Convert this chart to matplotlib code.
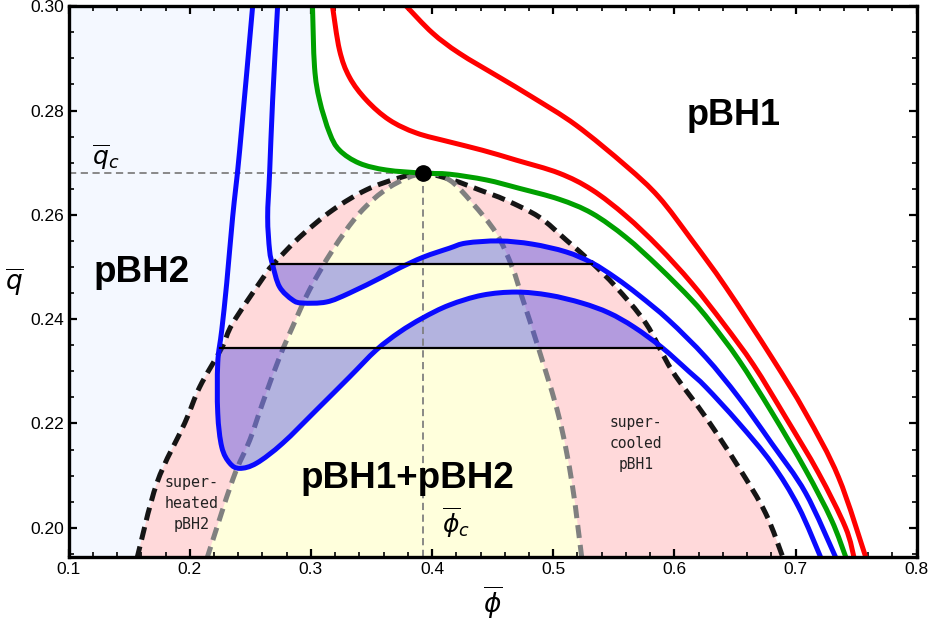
import numpy as np
import matplotlib.pyplot as plt
from matplotlib.path import Path
from matplotlib.patches import PathPatch
from matplotlib.ticker import MultipleLocator, FormatStrFormatter

plt.rcParams['font.family'] = ['Liberation Sans', 'DejaVu Sans']

# critical point
phi_c = 0.3928
q_c = 0.2680

# coexistence curve (black dashed)
coex_phi = [0.1563, 0.1729, 0.1959, 0.2082, 0.2264, 0.2354, 0.2610, 0.2684, 0.2906,
            0.3178, 0.3458, 0.3730, 0.3928, 0.4166, 0.4389, 0.4612, 0.4883, 0.5106,
            0.5320, 0.5517, 0.5765, 0.5979, 0.6259, 0.6531, 0.6753, 0.6901]
coex_q = [0.1940, 0.2086, 0.2201, 0.2270, 0.2345, 0.2392, 0.2481, 0.2504, 0.2557,
          0.2609, 0.2648, 0.2671, 0.2680, 0.2667, 0.2648, 0.2628, 0.2596, 0.2552,
          0.2508, 0.2462, 0.2392, 0.2302, 0.2212, 0.2116, 0.2028, 0.1940]

# spinodal curve (gray dashed)
spin_phi = [0.2140, 0.2354, 0.2495, 0.2601, 0.2741, 0.2848, 0.2988, 0.3178, 0.3400,
            0.3647, 0.3928, 0.4142, 0.4331, 0.4529, 0.4661, 0.4743, 0.4883, 0.5048,
            0.5155, 0.5237]
spin_q = [0.1940, 0.2092, 0.2168, 0.2239, 0.2327, 0.2385, 0.2456, 0.2532, 0.2603,
          0.2653, 0.2680, 0.2667, 0.2623, 0.2565, 0.2500, 0.2442, 0.2341, 0.2212,
          0.2086, 0.1940]

# isotherms below T_c (blue)
blue1_phi = [0.2519, 0.2412, 0.2354, 0.2305, 0.2264, 0.2231, 0.2231, 0.2264, 0.2330,
             0.2412, 0.2552, 0.2766, 0.3046, 0.3318, 0.3540, 0.3730, 0.3920, 0.4142,
             0.4414, 0.4694, 0.4966, 0.5237, 0.5460, 0.5666, 0.5896, 0.6119, 0.6259,
             0.6531, 0.6803, 0.7025, 0.7214]
blue1_q = [0.3000, 0.2724, 0.2596, 0.2469, 0.2379, 0.2316, 0.2220, 0.2155, 0.2124,
           0.2114, 0.2124, 0.2162, 0.2226, 0.2289, 0.2341, 0.2375, 0.2402, 0.2427,
           0.2446, 0.2452, 0.2446, 0.2431, 0.2412, 0.2385, 0.2346, 0.2300, 0.2270,
           0.2201, 0.2124, 0.2040, 0.1940]

blue2_phi = [0.2725, 0.2684, 0.2659, 0.2643, 0.2659, 0.2684, 0.2741, 0.2848, 0.2931,
             0.3129, 0.3318, 0.3590, 0.3730, 0.3928, 0.4142, 0.4282, 0.4554, 0.4826,
             0.5106, 0.5320, 0.5517, 0.5707, 0.5954, 0.6259, 0.6531, 0.6803, 0.7083,
             0.7338]
blue2_q = [0.3000, 0.2820, 0.2680, 0.2596, 0.2532, 0.2504, 0.2462, 0.2437, 0.2431,
           0.2433, 0.2450, 0.2481, 0.2498, 0.2519, 0.2536, 0.2546, 0.2550, 0.2544,
           0.2529, 0.2508, 0.2479, 0.2446, 0.2398, 0.2327, 0.2250, 0.2162, 0.2067,
           0.1940]

# Maxwell equal-area lines: (q, phi_left, phi_right)
maxwell1 = (0.2345, 0.2247, 0.5896)
maxwell2 = (0.2505, 0.2675, 0.5320)

# critical isotherm (green)
green_phi = [0.3013, 0.3030, 0.3071, 0.3154, 0.3236, 0.3400, 0.3623, 0.3928, 0.4142,
             0.4447, 0.4718, 0.5048, 0.5320, 0.5600, 0.5872, 0.6143, 0.6300, 0.6531,
             0.6803, 0.7083, 0.7297, 0.7421]
green_q = [0.3000, 0.2883, 0.2820, 0.2757, 0.2724, 0.2699, 0.2686, 0.2680, 0.2678,
           0.2667, 0.2651, 0.2630, 0.2603, 0.2557, 0.2500, 0.2437, 0.2394, 0.2322,
           0.2222, 0.2111, 0.2015, 0.1940]

# isotherms above T_c (red)
red1_phi = [0.3178, 0.3236, 0.3318, 0.3458, 0.3647, 0.3870, 0.4142, 0.4414, 0.4694,
            0.5048, 0.5320, 0.5600, 0.5872, 0.6143, 0.6407, 0.6654, 0.6918, 0.7190,
            0.7412, 0.7486]
red1_q = [0.3000, 0.2916, 0.2864, 0.2820, 0.2782, 0.2757, 0.2740, 0.2724, 0.2705,
          0.2680, 0.2648, 0.2598, 0.2538, 0.2469, 0.2391, 0.2312, 0.2212, 0.2105,
          0.2001, 0.1940]

red2_phi = [0.3788, 0.4002, 0.4224, 0.4554, 0.4826, 0.5188, 0.5600, 0.5872, 0.6143,
            0.6423, 0.6803, 0.7083, 0.7355, 0.7585]
red2_q = [0.3000, 0.2949, 0.2910, 0.2864, 0.2826, 0.2772, 0.2694, 0.2634, 0.2552,
          0.2462, 0.2327, 0.2220, 0.2097, 0.1940]

x_lim = (0.1, 0.8)
y_lim = (0.1944, 0.30)


def bezier(x, y):
    # smooth curve through the read points (Catmull-Rom as cubic Bezier segments)
    p = np.column_stack([x, y]).astype(float)
    ext = np.vstack([p[0], p, p[-1]])
    verts = [p[0]]
    for i in range(len(p) - 1):
        a, b, c, d = ext[i], ext[i + 1], ext[i + 2], ext[i + 3]
        verts += [b + (c - a) / 6, c - (d - b) / 6, c]
    return np.array(verts)


def curve_path(x, y):
    verts = bezier(x, y)
    codes = [Path.MOVETO] + [Path.CURVE4] * (len(verts) - 1)
    return Path(verts, codes)


def region_path(pieces):
    # pieces: list of ('line', (x, y)) or ('curve', (xs, ys)); closed at the end
    verts, codes = [], []
    for kind, data in pieces:
        if kind == 'line':
            verts.append(data)
            codes.append(Path.LINETO if verts[:-1] else Path.MOVETO)
        else:
            v = bezier(*data)
            verts.append(v[0])
            codes.append(Path.LINETO if verts[:-1] else Path.MOVETO)
            verts += list(v[1:])
            codes += [Path.CURVE4] * (len(v) - 1)
    verts.append(verts[0])
    codes.append(Path.CLOSEPOLY)
    return Path(np.array(verts), codes)


def draw_curve(ax, x, y, **kw):
    patch = PathPatch(curve_path(x, y), fill=False, joinstyle='round', **kw)
    ax.add_patch(patch)


def fill_maxwell(ax, phi, q, line):
    # area between the oscillating isotherm and its Maxwell line
    q_eq, phi_left, phi_right = line
    phi = np.array(phi)
    q = np.array(q)
    start = np.argmax(q <= q_eq + 1e-4)
    keep = (np.arange(len(phi)) >= start) & (phi <= phi_right + 1e-4)
    path = region_path([('line', (phi_left, q_eq)), ('curve', (phi[keep], q[keep])),
                        ('line', (phi_right, q_eq))])
    ax.add_patch(PathPatch(path, facecolor=(0.2, 0.2, 0.9), alpha=0.37, lw=0, zorder=3))
    ax.plot([phi_left, phi_right], [q_eq, q_eq], color='black', lw=1.6, zorder=4.5)


fig = plt.figure(figsize=(9.31, 6.23), dpi=100)
ax = fig.add_axes([0.0737, 0.1059, 0.9109, 0.8841])

# background regions
peak = coex_phi.index(phi_c)
gpeak = green_phi.index(phi_c)
pbh2_region = region_path([('line', (x_lim[0], coex_q[0])),
                           ('curve', (coex_phi[:peak + 1], coex_q[:peak + 1])),
                           ('curve', (green_phi[:gpeak + 1][::-1], green_q[:gpeak + 1][::-1])),
                           ('line', (x_lim[0], green_q[0]))])
ax.add_patch(PathPatch(pbh2_region, facecolor='#f4f8ff', lw=0, zorder=0))
ax.add_patch(PathPatch(region_path([('curve', (coex_phi, coex_q))]),
                       facecolor='#ffd9da', lw=0, zorder=1))
ax.add_patch(PathPatch(region_path([('curve', (spin_phi, spin_q))]),
                       facecolor='#ffffdc', lw=0, zorder=1.5))

draw_curve(ax, coex_phi, coex_q, edgecolor='#151515', lw=3.6, linestyle=(0, (2.6, 1.4)), zorder=2)
draw_curve(ax, spin_phi, spin_q, edgecolor='#808080', lw=3.6, linestyle=(0, (2.6, 1.4)), zorder=2)

fill_maxwell(ax, blue1_phi, blue1_q, maxwell1)
fill_maxwell(ax, blue2_phi, blue2_q, maxwell2)

# reference lines through the critical point
ax.plot([x_lim[0], phi_c], [q_c, q_c], color='#808080', lw=1.3, dashes=(4, 2.5), zorder=2.5)
ax.plot([phi_c, phi_c], [y_lim[0], q_c], color='#808080', lw=1.3, dashes=(4, 2.5), zorder=3.5)

for phi, q, col in [(blue1_phi, blue1_q, '#0a0aff'), (blue2_phi, blue2_q, '#0a0aff'),
                    (green_phi, green_q, '#00a000'), (red1_phi, red1_q, '#ff0000'),
                    (red2_phi, red2_q, '#ff0000')]:
    draw_curve(ax, phi, q, edgecolor=col, lw=3.6, zorder=4)

ax.plot(phi_c, q_c, 'o', color='black', ms=11, zorder=6)

# region labels
ax.text(0.649, 0.2772, 'pBH1', fontsize=26, fontweight='bold', ha='center', va='baseline', zorder=7)
ax.text(0.1604, 0.2471, 'pBH2', fontsize=26.5, fontweight='bold', ha='center', va='baseline', zorder=7)
ax.text(0.3797, 0.2076, 'pBH1+pBH2', fontsize=26.5, fontweight='bold', ha='center', va='baseline', zorder=7)
ax.text(0.2017, 0.2047, 'super-\nheated\npBH2', family='DejaVu Sans Mono', fontsize=10.8,
        ha='center', va='center', multialignment='center', linespacing=1.5, color='#222222', zorder=7)
ax.text(0.5682, 0.2162, 'super-\ncooled\npBH1', family='DejaVu Sans Mono', fontsize=10.5,
        ha='center', va='center', multialignment='center', linespacing=1.5, color='#222222', zorder=7)
ax.text(0.119, 0.2697, r'$\overline{q}_c$', fontsize=18, ha='left', va='baseline', zorder=7)
ax.text(0.4084, 0.1990, r'$\overline{\phi}_c$', fontsize=18, ha='left', va='baseline', zorder=7)

ax.set_xlim(*x_lim)
ax.set_ylim(*y_lim)
ax.set_xlabel(r'$\overline{\phi}$', fontsize=19, va='center')
ax.set_ylabel(r'$\overline{q}$', fontsize=19, rotation=0, va='center', ha='center')
ax.xaxis.set_label_coords(0.5, -0.083)
ax.yaxis.set_label_coords(-0.064, 0.5)

ax.xaxis.set_major_locator(MultipleLocator(0.1))
ax.xaxis.set_minor_locator(MultipleLocator(0.02))
ax.yaxis.set_major_locator(MultipleLocator(0.02))
ax.yaxis.set_minor_locator(MultipleLocator(0.005))
ax.xaxis.set_major_formatter(FormatStrFormatter('%.1f'))
ax.yaxis.set_major_formatter(FormatStrFormatter('%.2f'))
ax.tick_params(which='both', direction='in', top=True, right=True, labelsize=12.5, zorder=8)
ax.tick_params(which='major', length=6, width=1.6)
ax.tick_params(which='minor', length=3.5, width=1.2)
for s in ax.spines.values():
    s.set_linewidth(2.4)
    s.set_zorder(8)

plt.savefig('out.png', dpi=100)
